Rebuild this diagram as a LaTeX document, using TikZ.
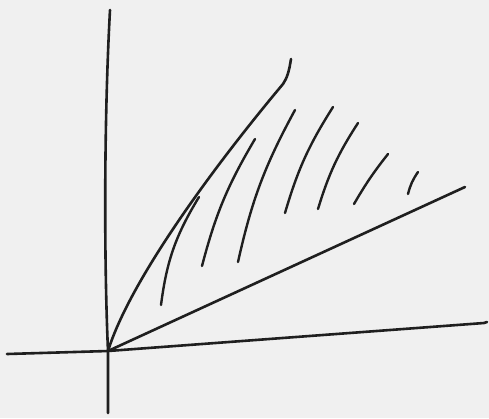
\documentclass[tikz,border=0pt]{standalone}
\begin{document}
\begin{tikzpicture}[x=1pt,y=-1pt,
  ink/.style={draw=black!88,line width=2.6pt,line cap=round,line join=round},
  hatch/.style={draw=black!88,line width=2.4pt,line cap=round}]
\fill[black!6] (0,0) rectangle (489,418);
\useasboundingbox (0,0) rectangle (489,418);
% axes
\draw[ink] (110,10) .. controls (104,120) and (104,260) .. (108,351) -- (108,413);
\draw[ink] (7,354) -- (108,351) -- (484,323) -- (487,322);
% ray
\draw[ink] (108,351) -- (465,187);
% curve
\draw[ink] (108,351) .. controls (130,280) and (215,165) .. (283,84) .. controls (287,78) and (289,72) .. (291,59);
% hatches
\draw[hatch] (161,305) to[bend left=12] (199,197);
\draw[hatch] (202,266) to[bend left=8] (255,139);
\draw[hatch] (238,262) to[bend left=8] (295,110);
\draw[hatch] (285,213) to[bend left=8] (333,107);
\draw[hatch] (318,209) to[bend left=8] (358,123);
\draw[hatch] (354,204) to[bend left=4] (388,154);
\draw[hatch] (408,194) to[bend left=10] (418,172);
\end{tikzpicture}
\end{document}
